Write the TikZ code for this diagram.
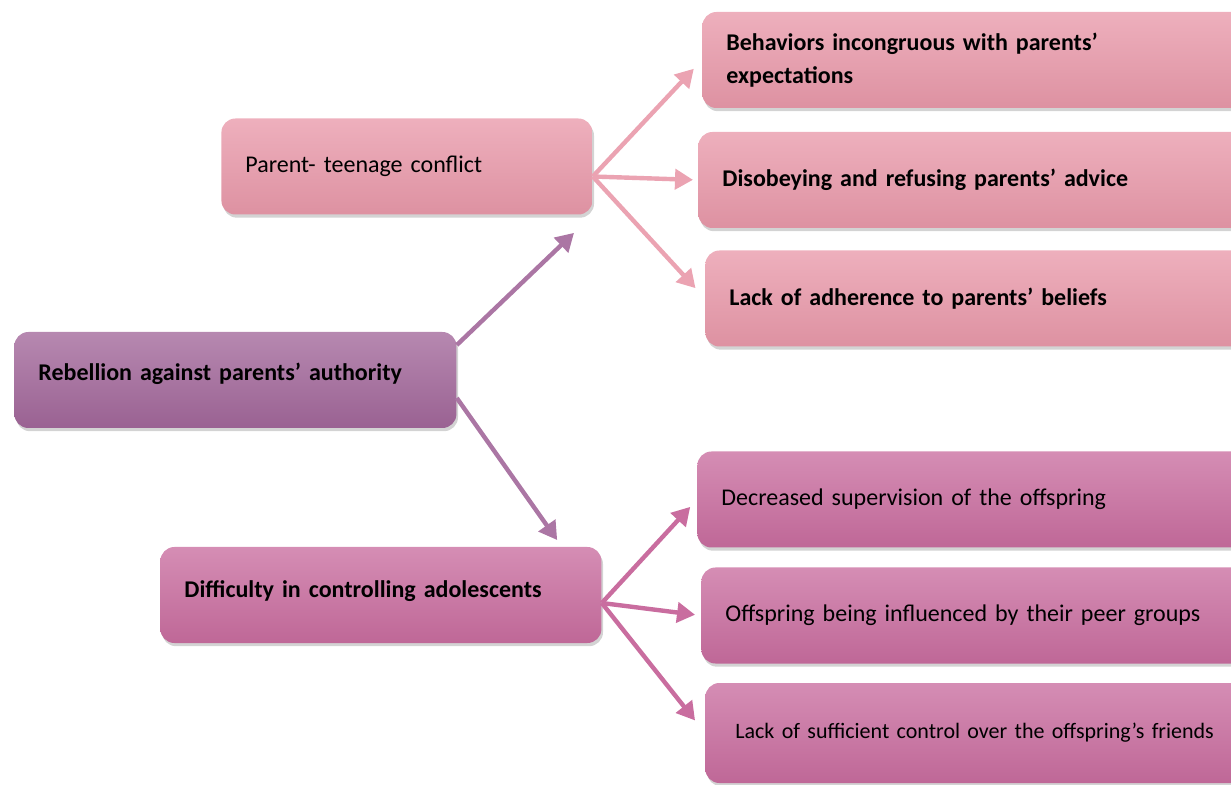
\documentclass[tikz,border=0pt]{standalone}
\usepackage{fontspec}
\setmainfont{Carlito}
\usepackage{xcolor}
\usepackage{tikz}
\usetikzlibrary{positioning,arrows.meta,shadows}

\definecolor{rosy}{HTML}{E999AA}
\definecolor{plum}{HTML}{A2679A}
\definecolor{orchid}{HTML}{C96D9F}

\begin{document}
\begin{tikzpicture}[x=0.5pt,y=-0.5pt,
  box/.style={rounded corners=7pt, anchor=west, minimum height=48pt, inner xsep=12pt,
    align=left, font=\fontsize{12}{16.5}\selectfont,
    drop shadow={shadow xshift=0.8pt,shadow yshift=-1.6pt,opacity=0.35}},
  rosybox/.style={box, top color=rosy!78!white, middle color=rosy, bottom color=rosy!95!black},
  plumbox/.style={box, top color=plum!78!white, middle color=plum, bottom color=plum!95!black},
  orchidbox/.style={box, top color=orchid!78!white, middle color=orchid, bottom color=orchid!95!black},
  link/.style={-{Triangle[length=9pt,width=10pt]}, line width=2.2pt}]
  \useasboundingbox (0,0) rectangle (1231,785);

  % centre and its two branches
  \node[plumbox, text width=197pt, font=\bfseries\fontsize{12}{16.5}\selectfont] (rebel) at (14,380)
    {Rebellion against parents’ authority\vspace{6pt}};
  \node[rosybox, text width=161.5pt] (conflict) at (221,166.5) {Parent- teenage conflict};
  \node[orchidbox, text width=196.5pt, font=\bfseries\fontsize{12}{16.5}\selectfont] (control) at (160,595)
    {Difficulty in controlling adolescents\vspace{4pt}};

  % conflict leaves
  \node[rosybox, text width=300pt, font=\bfseries\fontsize{12}{16.5}\selectfont] (expect) at (702,60)
    {Behaviors incongruous with parents’\\expectations};
  \node[rosybox, text width=300pt, font=\bfseries\fontsize{12}{16.5}\selectfont] (advice) at (698,180)
    {Disobeying and refusing parents’ advice};
  \node[rosybox, text width=300pt, font=\bfseries\fontsize{12}{16.5}\selectfont] (belief) at (705,298.5)
    {Lack of adherence to parents’ beliefs};

  % control leaves
  \node[orchidbox, text width=300pt] (superv) at (697,499.5) {Decreased supervision of the offspring};
  \node[orchidbox, text width=300pt] (peers) at (701,615.5) {Offspring being influenced by their peer groups};
  \node[orchidbox, text width=300pt, minimum height=50pt, font=\fontsize{11}{14}\selectfont] (friends) at (705,733)
    {\hspace*{3pt}Lack of sufficient control over the offspring’s friends};

  % arrows
  \draw[link, plum!90] ([yshift=17.5pt]rebel.east) -- (conflict.south east) [shorten >=13pt];
  \draw[link, plum!90, shorten >=4pt] ([yshift=-9pt]rebel.east) -- ([xshift=-20pt]control.north east);

  \draw[link, rosy!90!white, shorten >=6pt] ([yshift=-5pt]conflict.east) -- (expect.west);
  \draw[link, rosy!90!white, shorten >=2.5pt] ([yshift=-5pt]conflict.east) -- (advice.west);
  \draw[link, rosy!90!white, shorten >=7pt] ([yshift=-5pt]conflict.east) -- (belief.west);

  \draw[link, orchid, shorten >=5pt] ([yshift=-4pt]control.east) -- (superv.west);
  \draw[link, orchid, shorten >=3pt] ([yshift=-4pt]control.east) -- (peers.west);
  \draw[link, orchid, shorten >=8pt] ([yshift=-4pt]control.east) -- (friends.west);
\end{tikzpicture}
\end{document}
